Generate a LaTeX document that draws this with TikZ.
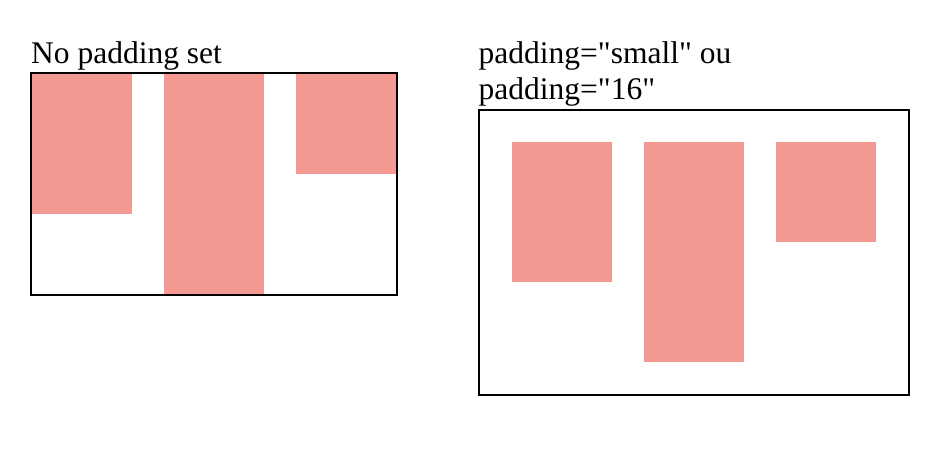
\documentclass[tikz,border=0pt]{standalone}
\usepackage{fontspec}
\setmainfont{Liberation Serif}[Ligatures=TeXOff]
\definecolor{salmon}{HTML}{F49A93}
\begin{document}
\begin{tikzpicture}[x=1pt,y=-1pt,
  frame/.style={draw=black,line width=2pt},
  item/.style={fill=salmon,draw=none,anchor=north west,inner sep=0pt,minimum width=100pt},
  caption/.style={anchor=base west,inner sep=0pt,font=\fontsize{31.5}{36.8}\selectfont}]
\useasboundingbox (0,0) rectangle (950,464);
% left
\node[caption] (t1) at (31,63.5) {No padding set};
\draw[frame] (31,73) rectangle (397,295);
\node[item,minimum height=140pt] (a1) at (32,74) {};
\node[item,minimum height=220pt] (a2) at (164,74) {};
\node[item,minimum height=100pt] (a3) at (296,74) {};
% right
\node[caption] (t2) at (478.5,63.5) {padding="small" ou};
\node[caption] (t3) at (478.5,99.5) {padding="16"};
\draw[frame] (479,109.5) rectangle (909,394.5);
\node[item,minimum height=140pt] (b1) at (512,142) {};
\node[item,minimum height=220pt] (b2) at (644,142) {};
\node[item,minimum height=100pt] (b3) at (776,142) {};
\end{tikzpicture}
\end{document}
